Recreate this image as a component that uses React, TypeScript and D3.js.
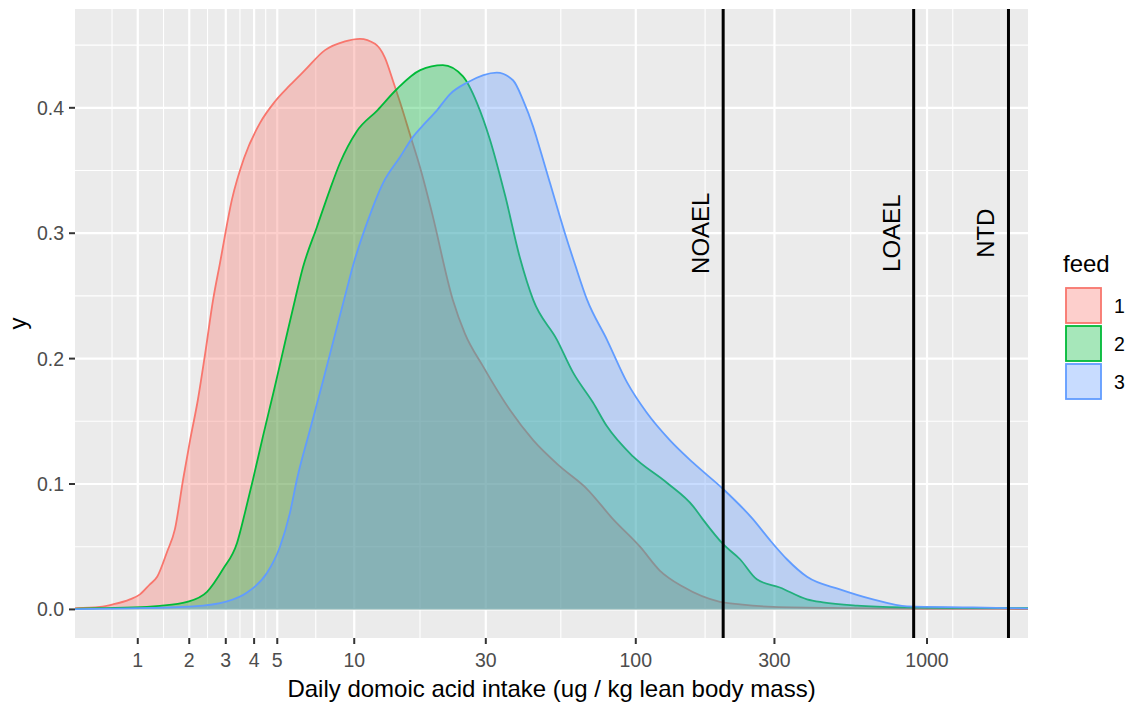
import * as d3 from "d3";

// density curves (x = intake, y = density)
const FEEDS = ["1", "2", "3"];
const FEED_COLORS = ["#F8766D", "#00BA38", "#619CFF"];

const feed1X = [0.22, 0.485, 0.646, 0.88, 1.035, 1.2, 1.33, 1.52, 1.68, 1.86, 2.02, 2.21, 2.4, 2.62, 2.82, 3.2, 3.62, 4.24, 4.89, 5.63, 6.46, 7.74, 9.23, 10.5, 11.95, 13.0, 13.9, 14.8, 16.1, 17.5, 19.3, 22.9, 25.3, 29.3, 36.5, 44.0, 54.6, 67.8, 83.4, 103.4, 121, 145.6, 195, 228.5, 297, 545, 808, 1198, 1777, 2216];
const feed1Y = [0.001, 0.002, 0.004, 0.008, 0.012, 0.02, 0.026, 0.046, 0.064, 0.104, 0.135, 0.167, 0.204, 0.247, 0.276, 0.327, 0.36, 0.388, 0.405, 0.418, 0.43, 0.446, 0.453, 0.455, 0.451, 0.44, 0.422, 0.404, 0.378, 0.352, 0.316, 0.247, 0.22, 0.194, 0.159, 0.135, 0.114, 0.096, 0.072, 0.05, 0.031, 0.018, 0.006, 0.004, 0.002, 0.001, 0.0006, 0.0005, 0.0004, 0.0002];

const feed2X = [0.22, 0.485, 1.15, 1.38, 1.95, 2.45, 2.91, 3.37, 3.65, 3.96, 4.36, 4.85, 5.38, 5.9, 6.35, 7.2, 8.09, 8.83, 10.2, 12.2, 14.4, 17.5, 21.1, 24.9, 27.9, 31.0, 35.1, 39.6, 44.0, 53.3, 60.6, 71.1, 79.5, 97.8, 128, 158, 170, 200, 228.5, 261, 313, 388, 440, 576, 854, 1296, 2216];
const feed2Y = [0.0005, 0.001, 0.002, 0.0028, 0.006, 0.014, 0.032, 0.053, 0.077, 0.104, 0.138, 0.175, 0.213, 0.247, 0.273, 0.305, 0.335, 0.356, 0.381, 0.398, 0.415, 0.43, 0.434, 0.425, 0.404, 0.375, 0.33, 0.28, 0.247, 0.215, 0.189, 0.165, 0.146, 0.122, 0.101, 0.082, 0.072, 0.052, 0.04, 0.024, 0.0175, 0.008, 0.0056, 0.003, 0.0016, 0.0012, 0.001];

const feed3X = [0.22, 0.84, 2.09, 3.04, 3.73, 4.53, 5.13, 5.63, 6.01, 6.76, 7.53, 8.45, 9.39, 9.89, 11.2, 12.8, 14.8, 16.5, 17.9, 20.1, 22.4, 25.7, 32.8, 37.4, 40.6, 44.0, 45.4, 50.4, 56.8, 61.6, 67.8, 79.5, 93.3, 109, 131, 157.5, 200, 253, 290, 331, 388, 503, 653, 854, 1437, 2216];
const feed3Y = [0.0003, 0.0008, 0.0024, 0.0064, 0.0135, 0.029, 0.05, 0.077, 0.104, 0.143, 0.179, 0.219, 0.256, 0.274, 0.309, 0.34, 0.361, 0.377, 0.386, 0.398, 0.411, 0.42, 0.428, 0.422, 0.406, 0.385, 0.375, 0.34, 0.3, 0.275, 0.247, 0.215, 0.181, 0.157, 0.135, 0.117, 0.096, 0.072, 0.055, 0.04, 0.026, 0.016, 0.008, 0.0024, 0.0016, 0.0008];

const X_BREAKS = [1, 2, 3, 4, 5, 10, 30, 100, 300, 1000];
const Y_BREAKS = [0, 0.1, 0.2, 0.3, 0.4];
const REF_LABELS = ["NOAEL", "LOAEL", "NTD"];
const REF_VALUES = [200, 900, 1900];

const FONT = "'Liberation Sans', Arial, sans-serif";

export default function App() {
  const W = 1127;
  const H = 705;
  const left = 75, right = 1028, top = 9, bottom = 638;

  const x = d3.scaleSymlog().constant(1).domain([0.22, 2216]).range([left, right]);
  const y = d3.scaleLinear().domain([-0.0228, 0.4788]).range([bottom, top]);

  // ggplot style minor breaks, midway between majors in transformed space
  const tb = X_BREAKS.map(Math.log1p);
  const bd = tb[1] - tb[0];
  const ext = [tb[0] - bd, ...tb, tb[tb.length - 1] + bd];
  const xMinor: number[] = [];
  for (let i = 0; i < ext.length - 1; i++) xMinor.push(Math.expm1((ext[i] + ext[i + 1]) / 2));
  const [xd0, xd1] = x.domain();
  const xMinorIn = xMinor.filter((v) => v > xd0 && v < xd1);

  const yExt = [Y_BREAKS[0] - 0.1, ...Y_BREAKS, Y_BREAKS[Y_BREAKS.length - 1] + 0.1];
  const yMinor: number[] = [];
  for (let i = 0; i < yExt.length - 1; i++) yMinor.push((yExt[i] + yExt[i + 1]) / 2);
  const [yd0, yd1] = y.domain();
  const yMinorIn = yMinor.filter((v) => v > yd0 && v < yd1);

  const series: [number, number][][] = [
    feed1X.map((v, i) => [v, feed1Y[i]] as [number, number]),
    feed2X.map((v, i) => [v, feed2Y[i]] as [number, number]),
    feed3X.map((v, i) => [v, feed3Y[i]] as [number, number]),
  ];

  const area = d3
    .area<[number, number]>()
    .x((d) => x(d[0]))
    .y0(y(0))
    .y1((d) => y(d[1]))
    .curve(d3.curveMonotoneX);
  const line = d3
    .line<[number, number]>()
    .x((d) => x(d[0]))
    .y((d) => y(d[1]))
    .curve(d3.curveMonotoneX);

  const tickColor = "#4D4D4D";
  const legendX = 1065;
  const keyTop = 287;
  const keyH = 38;

  return (
    <div>
      <style>{`body{margin:0;background:#fff}`}</style>
      <svg width={W} height={H} style={{ display: "block", fontFamily: FONT }}>
        <rect x={left} y={top} width={right - left} height={bottom - top} fill="#EBEBEB" />
        <clipPath id="panel">
          <rect x={left} y={top} width={right - left} height={bottom - top} />
        </clipPath>

        {/* grid */}
        <g stroke="#fff" fill="none">
          {yMinorIn.map((v) => (
            <line key={"ym" + v} x1={left} x2={right} y1={y(v)} y2={y(v)} strokeWidth={1.1} />
          ))}
          {xMinorIn.map((v) => (
            <line key={"xm" + v} x1={x(v)} x2={x(v)} y1={top} y2={bottom} strokeWidth={1.1} />
          ))}
          {Y_BREAKS.map((v) => (
            <line key={"yM" + v} x1={left} x2={right} y1={y(v)} y2={y(v)} strokeWidth={2.2} />
          ))}
          {X_BREAKS.map((v) => (
            <line key={"xM" + v} x1={x(v)} x2={x(v)} y1={top} y2={bottom} strokeWidth={2.2} />
          ))}
        </g>

        {/* densities */}
        <g clipPath="url(#panel)">
          {series.map((s, i) => (
            <g key={FEEDS[i]}>
              <path d={area(s) || ""} fill={FEED_COLORS[i]} fillOpacity={0.35} />
              <path d={line(s) || ""} fill="none" stroke={FEED_COLORS[i]} strokeWidth={1.8} />
            </g>
          ))}
        </g>

        {/* reference lines */}
        {REF_VALUES.map((v, i) => (
          <g key={REF_LABELS[i]}>
            <line x1={x(v)} x2={x(v)} y1={top} y2={bottom} stroke="#000" strokeWidth={3} />
            <text
              transform={`translate(${x(v) - 14},${y(0.3)}) rotate(-90)`}
              textAnchor="middle"
              fontSize={24}
              fill="#000"
            >
              {REF_LABELS[i]}
            </text>
          </g>
        ))}

        {/* y axis */}
        {Y_BREAKS.map((v) => (
          <g key={"yt" + v}>
            <line x1={left - 6} x2={left} y1={y(v)} y2={y(v)} stroke="#333" strokeWidth={2} />
            <text x={left - 11} y={y(v) + 7} textAnchor="end" fontSize={19.5} fill={tickColor}>
              {d3.format(".1f")(v)}
            </text>
          </g>
        ))}
        <text transform={`translate(26,${(top + bottom) / 2}) rotate(-90)`} textAnchor="middle" fontSize={24} fill="#000">
          y
        </text>

        {/* x axis */}
        {X_BREAKS.map((v) => (
          <g key={"xt" + v}>
            <line x1={x(v)} x2={x(v)} y1={bottom} y2={bottom + 6} stroke="#333" strokeWidth={2} />
            <text x={x(v)} y={bottom + 29} textAnchor="middle" fontSize={19.5} fill={tickColor}>
              {v}
            </text>
          </g>
        ))}
        <text x={(left + right) / 2} y={697} textAnchor="middle" fontSize={24} fill="#000">
          Daily domoic acid intake (ug / kg lean body mass)
        </text>

        {/* legend */}
        <text x={legendX - 2} y={272} fontSize={24} fill="#000">
          feed
        </text>
        {FEEDS.map((f, i) => (
          <g key={"lg" + f}>
            <rect
              x={legendX + 1}
              y={keyTop + i * keyH + 1}
              width={35}
              height={keyH - 3}
              fill={FEED_COLORS[i]}
              fillOpacity={0.35}
              stroke={FEED_COLORS[i]}
              strokeWidth={1.8}
            />
            <text x={legendX + 49} y={keyTop + i * keyH + keyH / 2 + 7} fontSize={19.5} fill="#000">
              {f}
            </text>
          </g>
        ))}
      </svg>
    </div>
  );
}
